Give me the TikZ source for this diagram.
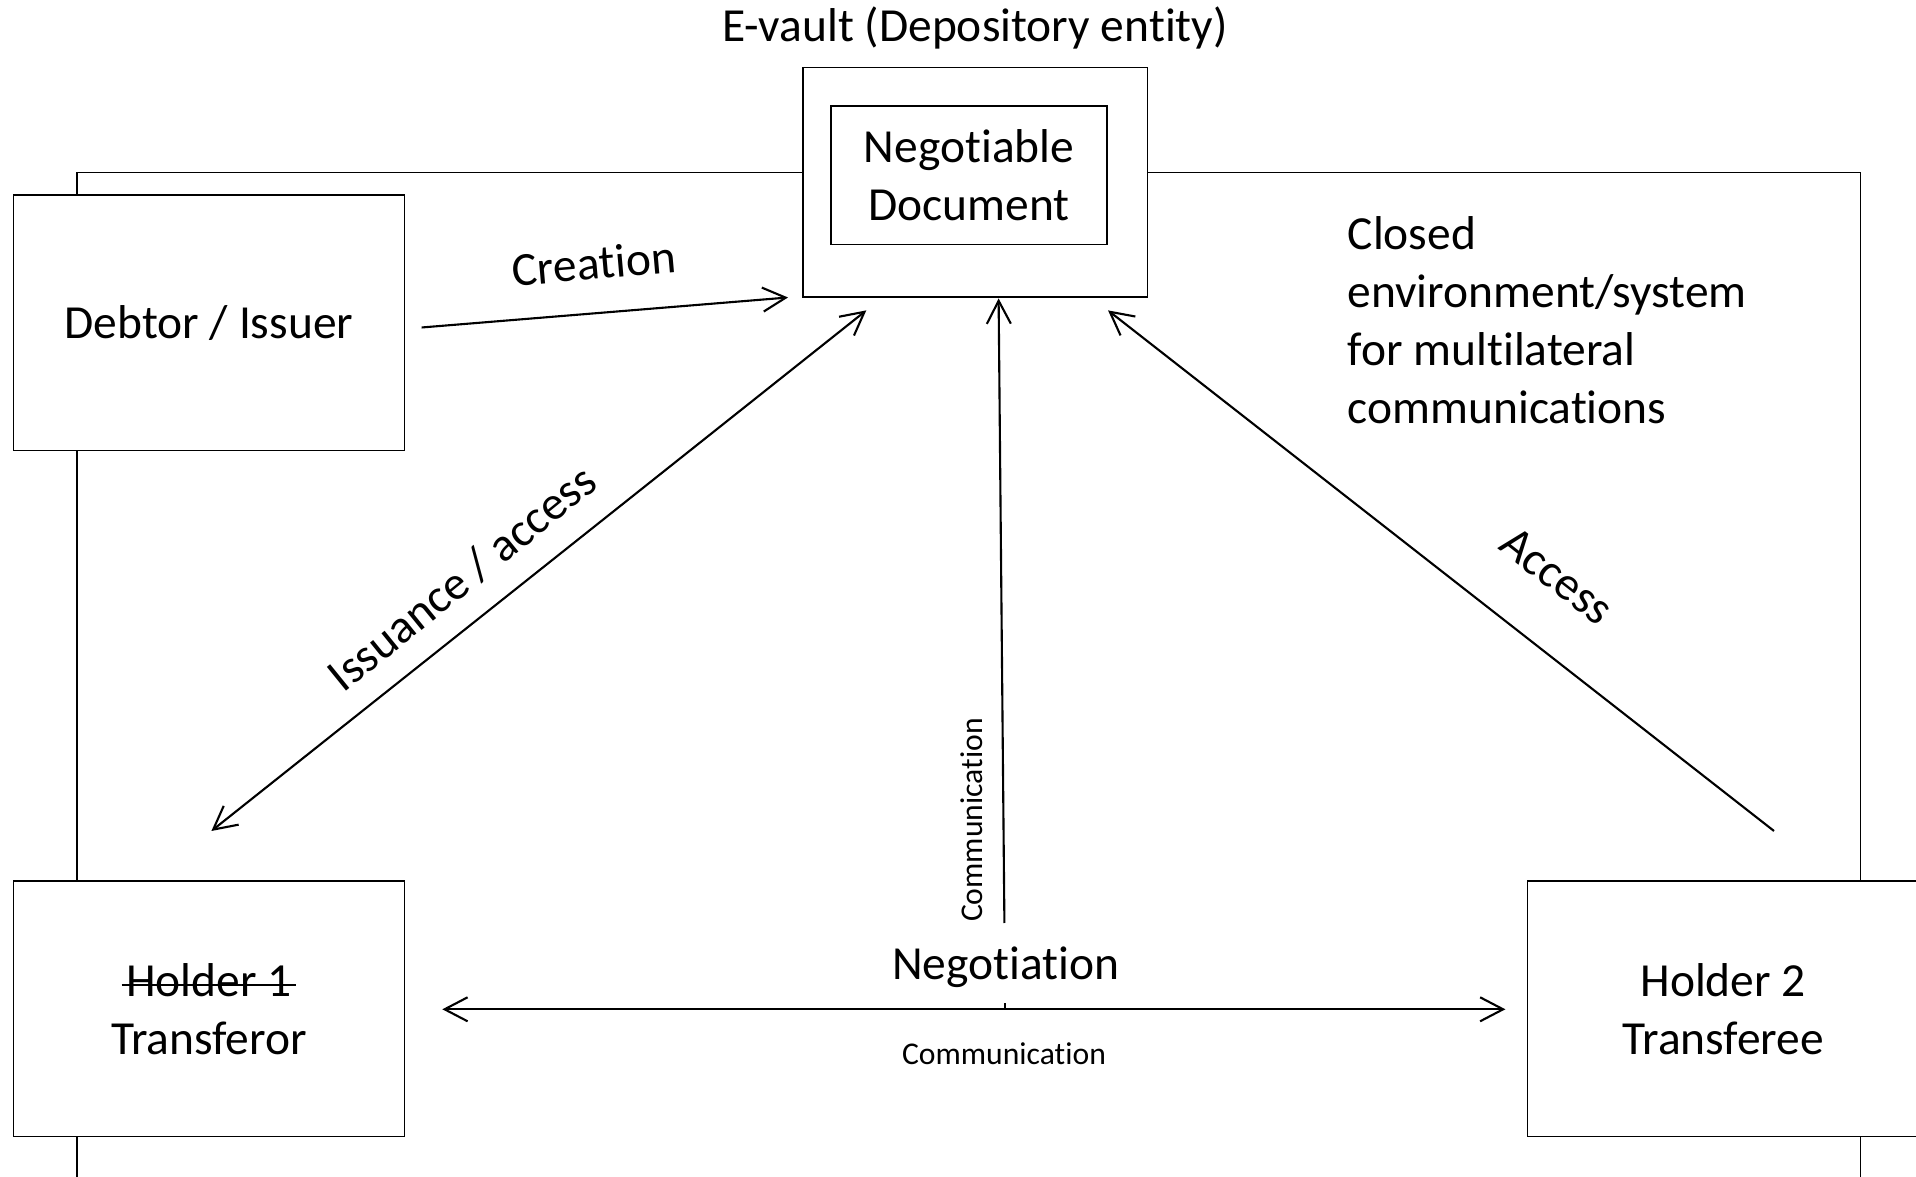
\documentclass[tikz,border=0pt]{standalone}
\usepackage{fontspec}
\setmainfont{Carlito}[Ligatures={NoCommon,NoContextual}, Contextuals=NoAlternate]
\usetikzlibrary{arrows.meta}
\newcommand\strikeword[1]{\setbox0\hbox{#1}\rlap{\kern-0.1em\raisebox{0.22em}{\rule{\dimexpr\wd0+0.2em\relax}{0.6pt}}}\box0}
\tikzset{
  lbl/.style={inner sep=0pt, align=center, font=\fontsize{13.5}{16.5}\selectfont},
  small/.style={inner sep=0pt, font=\fontsize{9}{11}\selectfont},
  box/.style={lbl, draw, line width=0.45pt, fill=white},
  party/.style={box, minimum width=3.91cm, minimum height=2.555cm},
  link/.style={line width=0.6pt}
}

\begin{document}
\begin{tikzpicture}[x=0.01cm,y=-0.01cm,>={Straight Barb[length=2.3mm,width=2.4mm]}]
              \useasboundingbox (0,0) rectangle (1916,1177);
              \clip (0,0) rectangle (1916,1177);
              % closed environment
              \draw[line width=0.45pt] (77,1200) -- (77,172.5) -- (1860.5,172.5) -- (1860.5,1200);
              \node[box, minimum width=3.445cm, minimum height=2.293cm] (V) at (975.3,182.2) {};
              \node[box, minimum width=2.76cm, minimum height=1.383cm] (N) at (969,175.2) {Negotiable\\Document};
              \node[lbl] (T) at (975,28) {E-vault (Depository entity)};
              \node[party] (D) at (209,322.6) {Debtor / Issuer};
              \node[party] (H1) at (209,1008.8) {\strikeword{Holder 1}\\Transferor};
              \node[party] (H2) at (1723.2,1008.8) {Holder 2\\Transferee};
              \node[lbl, anchor=north west, align=left] (E) at (1347,216) {Closed\\environment/system\\for multilateral\\communications};
              % arrow ends
              \coordinate (C1) at (421.6,327.5);
              \coordinate (C2) at (788,297.5);
              \coordinate (I1) at (211.4,831);
              \coordinate (I2) at (866.3,310.4);
              \coordinate (K1) at (1004.4,923);
              \coordinate (K2) at (998.6,298.5);
              \coordinate (A1) at (1774,831);
              \coordinate (A2) at (1108,310.4);
              \coordinate (G1) at (442.3,1009.3);
              \coordinate (G2) at (1505.4,1009.3);
              \coordinate (M) at (1005,1009.3);
              \draw[->,link] (C1) -- (C2);
              \draw[<->,link] (I1) -- (I2);
              \draw[->,link] (K1) -- (K2);
              \draw[->,link] (A1) -- (A2);
              \draw[<->,link] (G1) -- (G2);
              \draw[link] (M) -- ++(0,-6.5);
              % labels
              \node[lbl, rotate=5] (LC) at (594,263) {Creation};
              \node[lbl, rotate=39] (LI) at (462,578) {Issuance / access};
              \node[lbl, rotate=-38] (LA) at (1557,576) {Access};
              \node[small, rotate=90] (LK) at (971.5,820) {Communication};
              \node[lbl] (LN) at (1005.6,967) {Negotiation};
              \node[small] (LG) at (1004,1054) {Communication};
          \end{tikzpicture}
\end{document}
